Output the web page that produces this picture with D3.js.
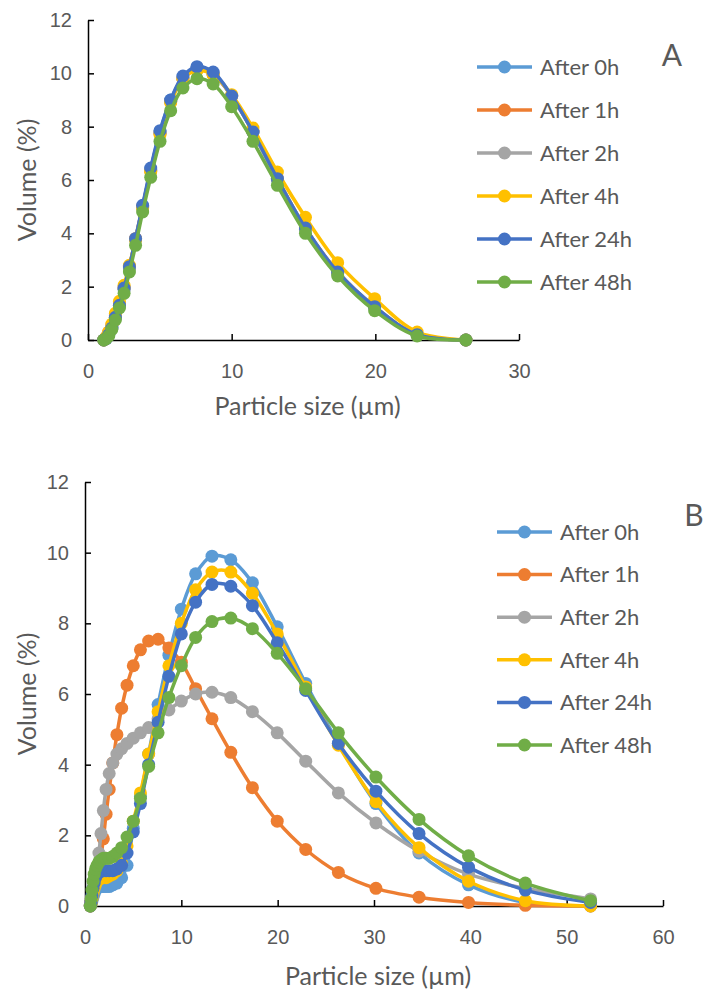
<!DOCTYPE html>
<html lang="en">
<head>
<meta charset="UTF-8">
<title>Particle size distribution</title>
<script src="https://cdnjs.cloudflare.com/ajax/libs/d3/7.8.5/d3.min.js"></script>
<style>
  body { margin: 0; background: #fff; }
  svg { font-family: Lato, "Open Sans", sans-serif; }
  .tick text { fill: #595959; font-size: 20px; }
  .title { fill: #595959; font-size: 25px; }
  .leg { fill: #595959; font-size: 22px; }
  .panel { fill: #595959; font-size: 30px; }
</style>
</head>
<body>
<svg id="chart" width="705" height="991"></svg>
<script>

var seriesNames = ["After 0h", "After 1h", "After 2h", "After 4h", "After 24h", "After 48h"];
var colors = ["#5B9BD5", "#ED7D31", "#A5A5A5", "#FFC000", "#4472C4", "#70AD47"];

// panel A : particle size bins (um)
var sizeA = [1.096, 1.259, 1.445, 1.660, 1.905, 2.188, 2.512, 2.884, 3.311, 3.802, 4.365, 5.012,
             5.754, 6.607, 7.586, 8.710, 10.0, 11.482, 13.183, 15.136, 17.378, 19.953, 22.909, 26.303];

var a0h  = [0, 0.05, 0.2, 0.45, 0.85, 1.3, 1.9, 2.7, 3.8, 5.0, 6.4, 7.8, 9.0, 9.85, 10.2, 10.0, 9.15, 7.8, 6.0, 4.15, 2.5, 1.2, 0.2, 0];
var a1h  = [0, 0.1, 0.3, 0.55, 0.9, 1.35, 1.95, 2.75, 3.8, 5.0, 6.35, 7.75, 8.95, 9.8, 10.15, 9.95, 9.15, 7.8, 6.05, 4.2, 2.55, 1.25, 0.2, 0];
var a2h  = [0, 0.05, 0.25, 0.5, 0.85, 1.3, 1.9, 2.7, 3.75, 4.95, 6.35, 7.75, 8.95, 9.8, 10.15, 9.95, 9.15, 7.8, 6.05, 4.2, 2.55, 1.25, 0.2, 0];
var a4h  = [0, 0.1, 0.3, 0.6, 1.0, 1.45, 2.05, 2.8, 3.75, 4.95, 6.3, 7.7, 8.9, 9.8, 10.1, 9.95, 9.2, 7.95, 6.3, 4.6, 2.9, 1.55, 0.3, 0];
var a24h = [0, 0.05, 0.2, 0.45, 0.85, 1.3, 1.95, 2.75, 3.8, 5.05, 6.45, 7.85, 9.0, 9.9, 10.25, 10.05, 9.15, 7.8, 6.05, 4.2, 2.55, 1.25, 0.2, 0];
var a48h = [0, 0.05, 0.15, 0.4, 0.75, 1.2, 1.75, 2.55, 3.55, 4.8, 6.1, 7.45, 8.6, 9.45, 9.8, 9.6, 8.75, 7.45, 5.8, 4.0, 2.4, 1.1, 0.15, 0];

// panel B : particle size bins (um)
var sizeB = [0.550, 0.631, 0.724, 0.832, 0.955, 1.096, 1.259, 1.445, 1.660, 1.905, 2.188, 2.512,
             2.884, 3.311, 3.802, 4.365, 5.012, 5.754, 6.607, 7.586, 8.710, 10.0, 11.482, 13.183,
             15.136, 17.378, 19.953, 22.909, 26.303, 30.200, 34.674, 39.811, 45.709, 52.481];

var b0h  = [0, 0.05, 0.15, 0.25, 0.35, 0.45, 0.5, 0.55, 0.55, 0.55, 0.55, 0.55, 0.6, 0.65, 0.8, 1.15, 2.2, 3.1, 4.3, 5.7, 7.1, 8.4, 9.4, 9.9, 9.8, 9.15, 7.9, 6.3, 4.6, 2.9, 1.5, 0.6, 0.1, 0];
var b1h  = [0, 0.1, 0.25, 0.4, 0.55, 0.7, 0.85, 1.05, 1.4, 1.9, 2.6, 3.3, 4.05, 4.85, 5.6, 6.25, 6.8, 7.25, 7.5, 7.55, 7.3, 6.9, 6.15, 5.3, 4.35, 3.35, 2.4, 1.6, 0.95, 0.5, 0.25, 0.1, 0.02, 0];
var b2h  = [0, 0.1, 0.25, 0.4, 0.6, 0.8, 1.1, 1.5, 2.05, 2.7, 3.3, 3.75, 4.05, 4.3, 4.45, 4.6, 4.75, 4.9, 5.05, 5.3, 5.55, 5.8, 6.0, 6.05, 5.9, 5.5, 4.9, 4.1, 3.2, 2.35, 1.55, 0.9, 0.5, 0.2];
var b4h  = [0, 0.05, 0.2, 0.35, 0.5, 0.6, 0.7, 0.75, 0.8, 0.8, 0.8, 0.85, 0.9, 1.0, 1.2, 1.7, 2.4, 3.2, 4.3, 5.5, 6.8, 8.0, 8.95, 9.45, 9.45, 8.85, 7.7, 6.2, 4.55, 2.95, 1.65, 0.7, 0.15, 0];
var b24h = [0, 0.1, 0.3, 0.5, 0.65, 0.8, 0.9, 0.95, 1.0, 1.0, 1.0, 1.0, 1.0, 1.05, 1.15, 1.5, 2.1, 2.9, 4.0, 5.2, 6.5, 7.7, 8.6, 9.1, 9.05, 8.5, 7.45, 6.1, 4.6, 3.25, 2.05, 1.1, 0.45, 0.1];
var b48h = [0, 0.2, 0.45, 0.7, 0.9, 1.05, 1.15, 1.25, 1.3, 1.35, 1.35, 1.35, 1.4, 1.5, 1.65, 1.95, 2.4, 3.05, 3.95, 4.9, 5.9, 6.8, 7.6, 8.05, 8.15, 7.85, 7.15, 6.15, 4.9, 3.65, 2.45, 1.42, 0.65, 0.15];

var yTicks = [0, 2, 4, 6, 8, 10, 12];
var xTicksA = [0, 10, 20, 30];
var xTicksB = [0, 10, 20, 30, 40, 50, 60];

var svg = d3.select("#chart");

function drawPanel(opt) {
  var x = d3.scaleLinear().domain(opt.xDomain).range([opt.left, opt.right]);
  var y = d3.scaleLinear().domain([0, 12]).range([opt.bottom, opt.top]);
  var g = svg.append("g");

  // axes (ticks pointing inwards, Excel style)
  var xAxis = d3.axisBottom(x).tickValues(opt.xTicks).tickSizeInner(-6).tickSizeOuter(0).tickPadding(31);
  var yAxis = d3.axisLeft(y).tickValues(yTicks).tickSizeInner(-6).tickSizeOuter(0).tickPadding(16);

  var gx = g.append("g").attr("transform", "translate(0," + opt.bottom + ")").call(xAxis);
  var gy = g.append("g").attr("transform", "translate(" + opt.left + ",0)").call(yAxis);
  [gx, gy].forEach(function (a) {
    a.select(".domain").attr("stroke", "#000").attr("stroke-width", 1.5);
    a.selectAll(".tick line").attr("stroke", "#000").attr("stroke-width", 1.5);
    a.selectAll(".tick text").attr("font-family", null).attr("font-size", null);
  });
  gx.selectAll(".tick text").attr("dy", "0.35em");

  var line = d3.line()
      .x(function (d) { return x(d[0]); })
      .y(function (d) { return y(d[1]); })
      .curve(d3.curveCatmullRom.alpha(0.5));

  opt.series.forEach(function (vals, i) {
    var pts = opt.sizes.map(function (s, j) { return [s, vals[j]]; });
    var sg = g.append("g");
    sg.append("path")
      .attr("d", line(pts))
      .attr("fill", "none")
      .attr("stroke", colors[i])
      .attr("stroke-width", 3.5);
    sg.selectAll("circle").data(pts).enter().append("circle")
      .attr("cx", function (d) { return x(d[0]); })
      .attr("cy", function (d) { return y(d[1]); })
      .attr("r", 6.5)
      .attr("fill", colors[i]);
  });

  // axis titles
  g.append("text").attr("class", "title")
    .attr("x", (opt.left + opt.right) / 2 + 4).attr("y", opt.xTitleY)
    .attr("text-anchor", "middle").text("Particle size (\u00b5m)");
  g.append("text").attr("class", "title")
    .attr("transform", "translate(" + 36 + "," + ((opt.top + opt.bottom) / 2) + ") rotate(-90)")
    .attr("text-anchor", "middle").text("Volume (%)");

  // panel letter
  g.append("text").attr("class", "panel")
    .attr("x", opt.letterX).attr("y", opt.letterY)
    .attr("text-anchor", "middle").text(opt.letter);

  // legend
  var lg = g.append("g");
  seriesNames.forEach(function (name, i) {
    var ly = opt.legY + i * opt.legStep;
    lg.append("line").attr("x1", opt.legX).attr("x2", opt.legX + 55)
      .attr("y1", ly).attr("y2", ly)
      .attr("stroke", colors[i]).attr("stroke-width", 3.5);
    lg.append("circle").attr("cx", opt.legX + 27.5).attr("cy", ly).attr("r", 6.5).attr("fill", colors[i]);
    lg.append("text").attr("class", "leg")
      .attr("x", opt.legX + 63).attr("y", ly).attr("dy", "0.35em").text(name);
  });
}

drawPanel({
  xDomain: [0, 30], left: 88, right: 519, top: 20, bottom: 340,
  xTicks: xTicksA, sizes: sizeA,
  series: [a0h, a1h, a2h, a4h, a24h, a48h],
  xTitleY: 415, letter: "A", letterX: 672, letterY: 66,
  legX: 477, legY: 67, legStep: 43
});

drawPanel({
  xDomain: [0, 60], left: 85, right: 663, top: 482, bottom: 906,
  xTicks: xTicksB, sizes: sizeB,
  series: [b0h, b1h, b2h, b4h, b24h, b48h],
  xTitleY: 985, letter: "B", letterX: 694, letterY: 526,
  legX: 497, legY: 532, legStep: 42.6
});

</script>
</body>
</html>
